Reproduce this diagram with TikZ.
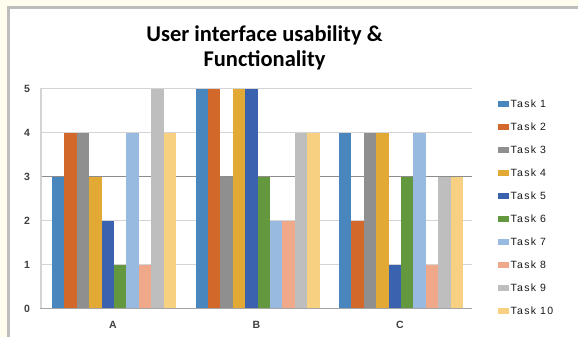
\documentclass[tikz,border=0pt]{standalone}
\usepackage{fontspec}
\setmainfont{Carlito}
\newfontfamily\lblfont[LetterSpace=12]{Liberation Sans}
\definecolor{cream}{HTML}{FFFDEE}
\definecolor{framegray}{HTML}{BDBDBD}
\definecolor{gridgray}{HTML}{D4D4D4}
\definecolor{darkgrid}{HTML}{8C8C8C}
\definecolor{axisgray}{HTML}{A6A6A6}
\definecolor{lbl}{HTML}{404040}
\definecolor{t1}{HTML}{4A86BE}
\definecolor{t2}{HTML}{D2692A}
\definecolor{t3}{HTML}{8F8F8F}
\definecolor{t4}{HTML}{E2A935}
\definecolor{t5}{HTML}{3A62AE}
\definecolor{t6}{HTML}{63983E}
\definecolor{t7}{HTML}{98BAE0}
\definecolor{t8}{HTML}{F0A88A}
\definecolor{t9}{HTML}{BEBEBE}
\definecolor{t10}{HTML}{F7D082}
\tikzset{
  gridline/.style={draw=gridgray, line width=1.5pt},
  axlbl/.style={font=\lblfont\fontsize{10.5}{12}\selectfont\bfseries, text=lbl, inner sep=0pt},
  leglbl/.style={font=\lblfont\fontsize{10.5}{12}\selectfont, text=black!90, inner sep=0pt, anchor=west},
  titlestyle/.style={font=\bfseries\fontsize{22.5}{25}\selectfont, align=center, inner sep=0pt}
}
\begin{document}
\begin{tikzpicture}[x=1pt,y=-1pt]
\useasboundingbox (0,0) rectangle (578,337);
\fill[cream] (0,0) rectangle (578,337);
\fill[white] (8,7) rectangle (578,337);
\draw[framegray, line width=2.5pt] (8.5,340) -- (8.5,7.5) -- (580,7.5);
% title
\node[titlestyle] (title) at (264.5,47.5) {User interface usability \&\\Functionality};
% gridlines
\foreach \v in {1,2,4,5} \draw[gridline] (41,{308.5-44*\v}) -- (472,{308.5-44*\v});
\draw[draw=darkgrid, line width=1.5pt] (41,176.5) -- (472,176.5);
% bars
\foreach \v [count=\i] in {3,4,4,3,2,1,4,1,5,4}
  \fill[fill=t\i] ({52+(\i-1)*12.4},308.5) rectangle ++(12.4,{-44*\v});
\foreach \v [count=\i] in {5,5,3,5,5,3,2,2,4,4}
  \fill[fill=t\i] ({195.5+(\i-1)*12.4},308.5) rectangle ++(12.4,{-44*\v});
\foreach \v [count=\i] in {4,2,4,4,1,3,4,1,3,3}
  \fill[fill=t\i] ({339+(\i-1)*12.4},308.5) rectangle ++(12.4,{-44*\v});
% axes
\draw[draw=gridgray, line width=1.5pt] (41,88) -- (41,308.5);
\draw[draw=axisgray, line width=1.5pt] (40.25,308.5) -- (472,308.5);
% y labels
\foreach \v in {0,...,5} \node[axlbl] (y\v) at (27,{308.5-44*\v}) {\v};
% category labels
\node[axlbl] (catA) at (113,325) {A};
\node[axlbl] (catB) at (256.5,325) {B};
\node[axlbl] (catC) at (400,325) {C};
% legend
\foreach \i in {1,...,10} {
  \fill[fill=t\i] (498,{104+23*(\i-1)-3}) rectangle (509,{104+23*(\i-1)+3});
  \node[leglbl] (leg\i) at (510.5,{104+23*(\i-1)}) {Task \i};
}
\end{tikzpicture}
\end{document}
